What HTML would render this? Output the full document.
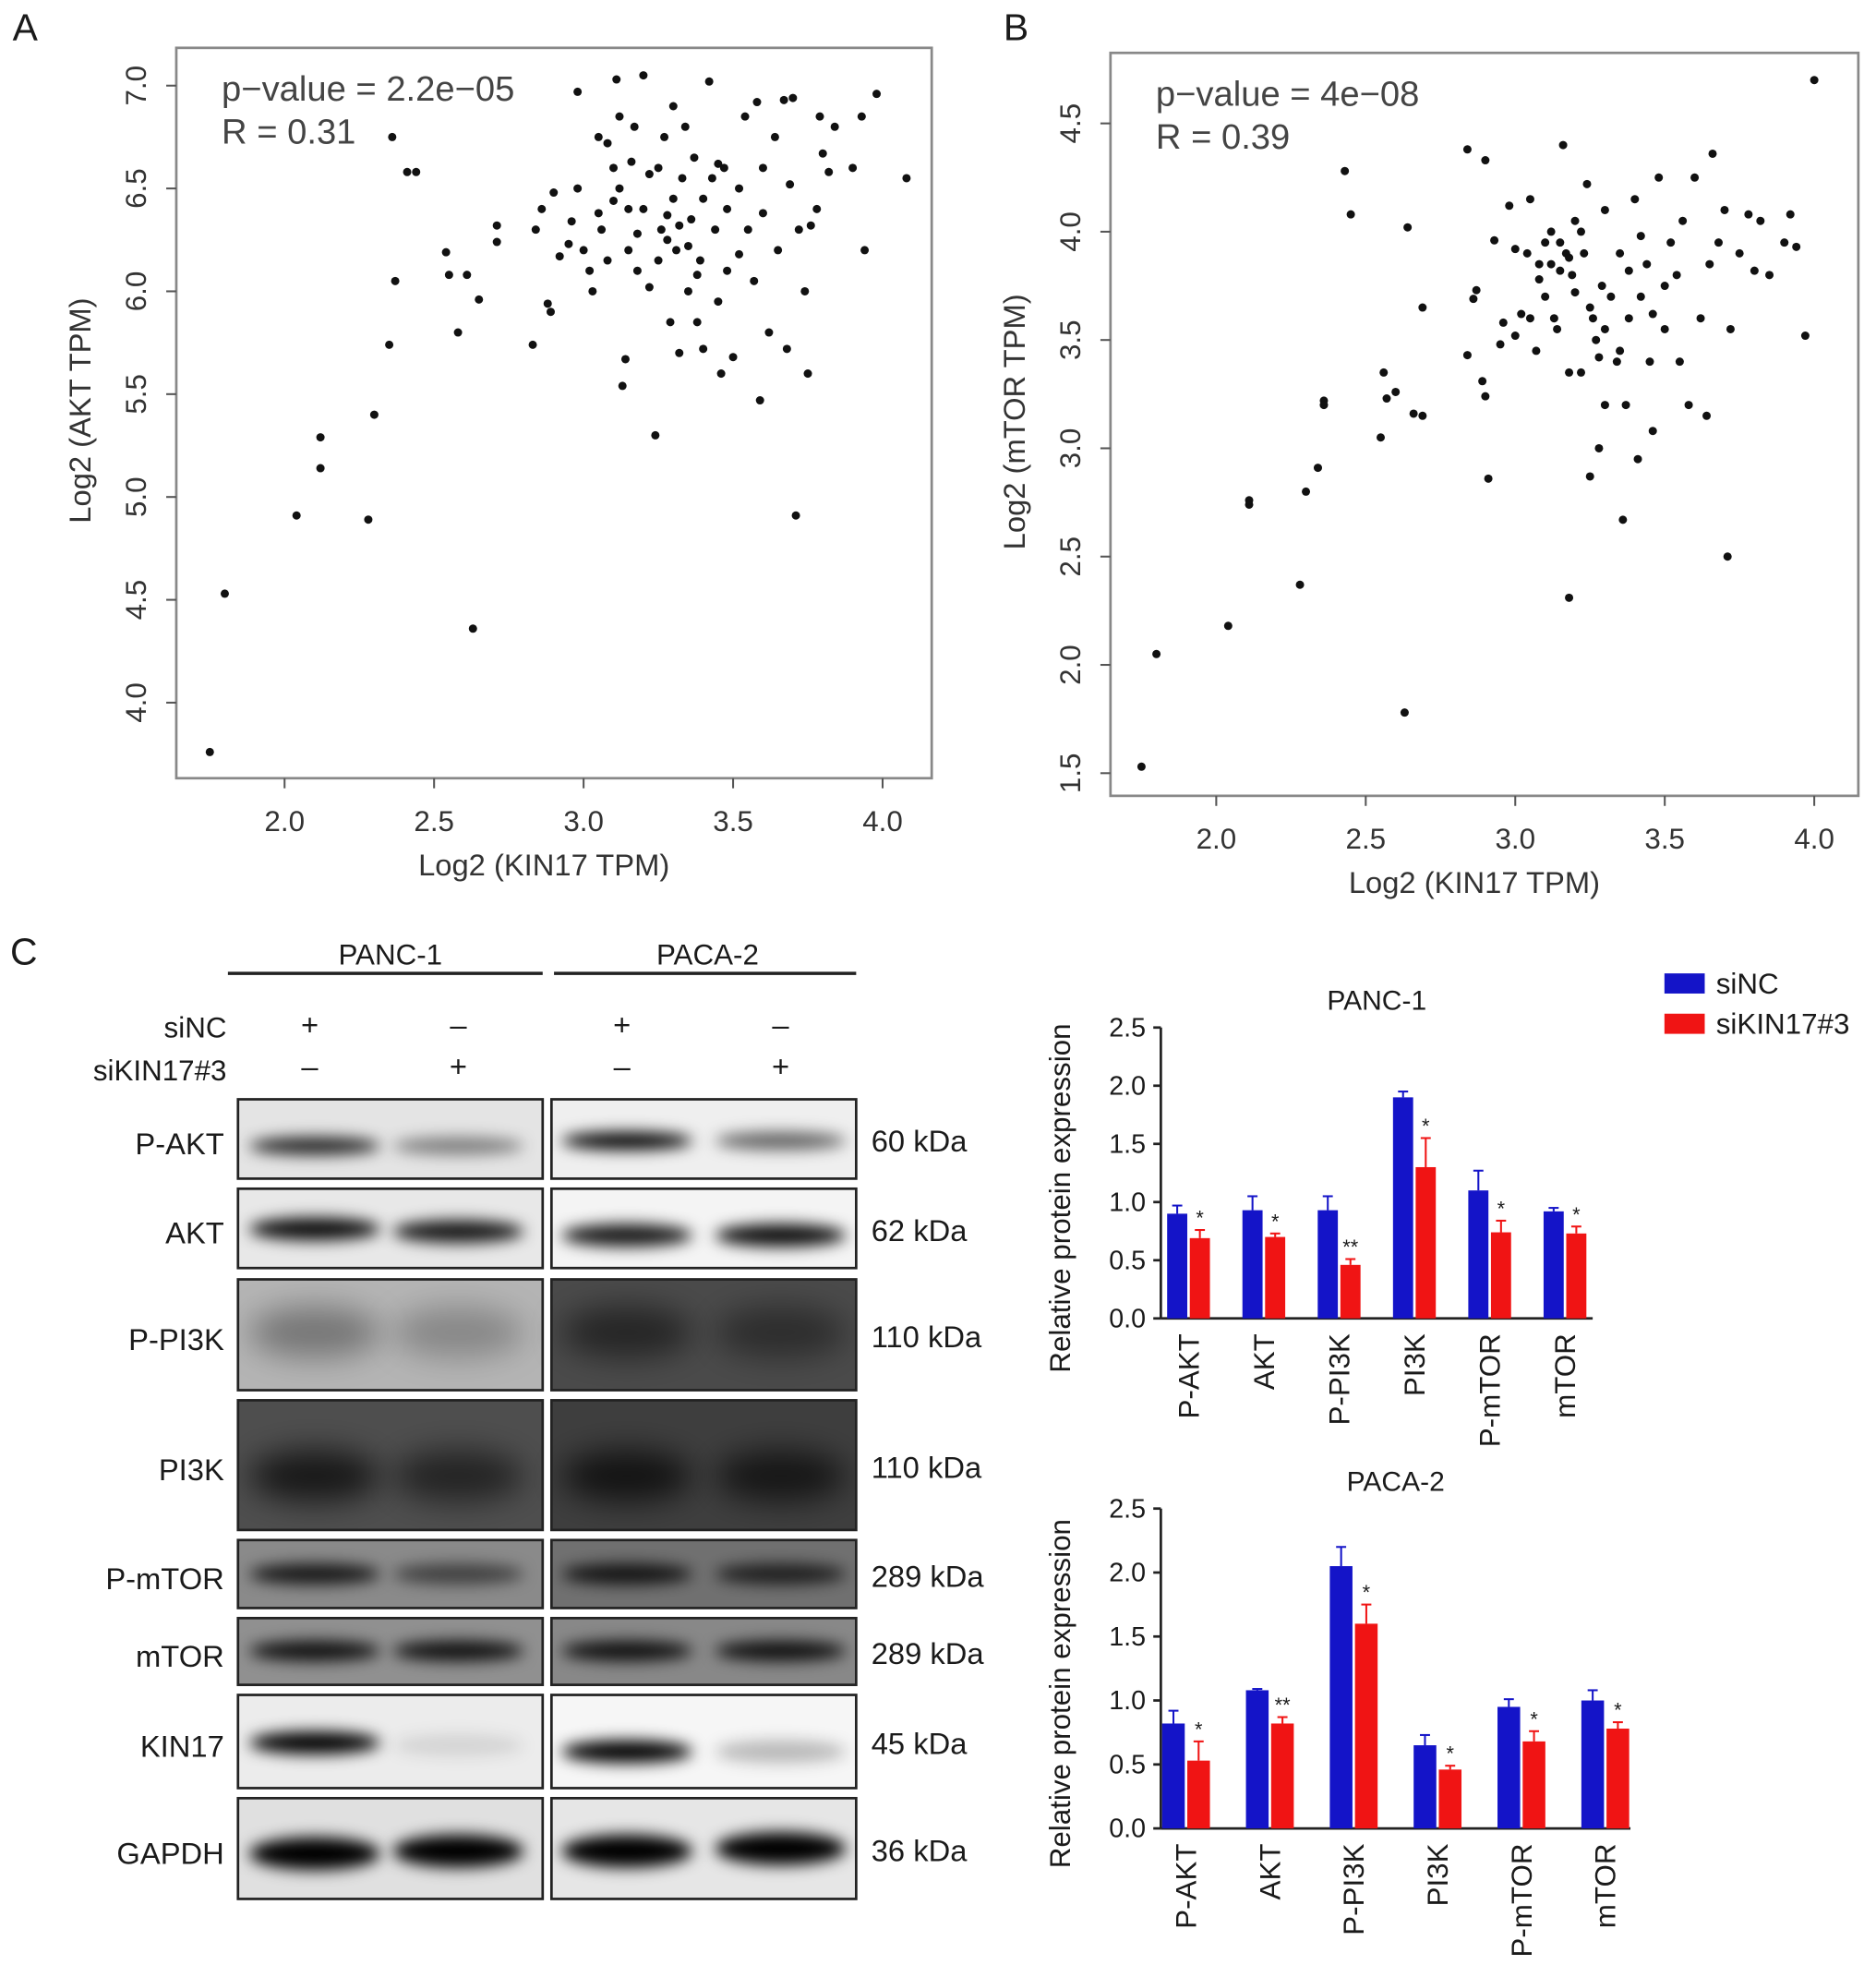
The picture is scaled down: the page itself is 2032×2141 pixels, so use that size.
<!DOCTYPE html>
<html><head><meta charset="utf-8">
<style>
html,body{margin:0;padding:0;background:#fff;}
svg{display:block;font-family:"Liberation Sans",Arial,sans-serif;}
</style></head>
<body>
<svg id="fig" width="2032" height="2141" viewBox="0 0 1490 1570" xmlns="http://www.w3.org/2000/svg">
<defs>
<filter id="blur6" x="-30%" y="-100%" width="160%" height="300%"><feGaussianBlur stdDeviation="6"/></filter>
<filter id="blur12" x="-30%" y="-100%" width="160%" height="300%"><feGaussianBlur stdDeviation="12"/></filter>
</defs>
<g id="root"></g>
</svg>
<script>
// ---------- DATA ----------
const aX=[1.75,1.8,2.04,2.12,2.12,2.28,2.3,2.35,2.37,2.36,2.41,2.44,2.54,2.55,2.58,2.61,2.63,2.65,2.71,2.71,2.83,2.84,2.86,2.88,2.89,2.9,2.92,2.95,2.96,2.98,3.0,3.02,3.03,3.05,3.06,3.08,3.1,3.11,3.12,3.13,3.14,3.15,3.16,3.17,3.18,3.2,3.2,3.22,3.24,3.25,3.26,3.27,3.28,3.29,3.3,3.31,3.32,3.33,3.34,3.35,3.36,3.37,3.38,3.39,3.4,3.42,3.43,3.44,3.45,3.46,3.47,3.48,3.5,3.52,3.54,3.55,3.57,3.58,3.59,3.6,3.62,3.64,3.65,3.67,3.68,3.69,3.7,3.71,3.72,3.74,3.75,3.76,3.78,3.79,3.8,3.82,3.84,3.9,3.93,3.94,3.98,4.08,3.1,3.15,3.22,3.28,3.32,3.35,3.25,3.18,3.4,3.05,3.45,3.3,3.52,3.12,3.6,2.98,3.08,3.38,3.48];
const aY=[3.76,4.53,4.91,5.14,5.29,4.89,5.4,5.74,6.05,6.75,6.58,6.58,6.19,6.08,5.8,6.08,4.36,5.96,6.24,6.32,5.74,6.3,6.4,5.94,5.9,6.48,6.17,6.23,6.34,6.97,6.2,6.1,6.0,6.38,6.3,6.72,6.6,7.03,6.5,5.54,5.67,6.2,6.63,6.8,6.1,7.05,6.4,6.02,5.3,6.6,6.3,6.75,6.25,5.85,6.45,6.2,5.7,6.55,6.8,6.0,6.35,6.65,5.85,6.15,5.72,7.02,6.55,6.3,5.95,5.6,6.6,6.4,5.68,6.18,6.85,6.3,6.05,6.92,5.47,6.38,5.8,6.75,6.2,6.93,5.72,6.52,6.94,4.91,6.3,6.0,5.6,6.32,6.4,6.85,6.67,6.58,6.8,6.6,6.85,6.2,6.96,6.55,6.44,6.4,6.57,6.37,6.32,6.22,6.15,6.28,6.45,6.75,6.62,6.9,6.5,6.85,6.6,6.5,6.15,6.08,6.1];
const bX=[1.75,1.8,2.04,2.11,2.11,2.28,2.3,2.34,2.36,2.36,2.43,2.45,2.55,2.56,2.57,2.6,2.63,2.64,2.66,2.69,2.69,2.84,2.84,2.86,2.87,2.89,2.9,2.9,2.91,2.93,2.95,2.96,2.98,3.0,3.02,3.04,3.05,3.07,3.08,3.1,3.12,3.13,3.14,3.15,3.16,3.17,3.18,3.19,3.2,3.22,3.23,3.24,3.25,3.26,3.27,3.28,3.29,3.3,3.32,3.34,3.35,3.36,3.37,3.38,3.4,3.41,3.42,3.44,3.45,3.46,3.48,3.5,3.52,3.54,3.56,3.58,3.6,3.62,3.64,3.66,3.68,3.7,3.71,3.72,3.75,3.78,3.8,3.82,3.85,3.9,3.92,3.94,3.97,4.0,3.08,3.12,3.15,3.18,3.2,3.25,3.3,3.35,3.38,3.42,3.5,3.28,3.18,3.1,3.3,3.46,3.55,3.65,3.22,3.05,3.0];
const bY=[1.53,2.05,2.18,2.74,2.76,2.37,2.8,2.91,3.22,3.2,4.28,4.08,3.05,3.35,3.23,3.26,1.78,4.02,3.16,3.15,3.65,3.43,4.38,3.69,3.73,3.31,3.24,4.33,2.86,3.96,3.48,3.58,4.12,3.52,3.62,3.9,4.15,3.45,3.85,3.7,4.0,3.6,3.55,3.95,4.4,3.9,2.31,3.8,4.05,3.35,3.9,4.22,2.87,3.6,3.5,3.0,3.75,4.1,3.7,3.4,3.9,2.67,3.2,3.6,4.15,2.95,3.7,3.85,3.4,3.08,4.25,3.55,3.95,3.8,4.05,3.2,4.25,3.6,3.15,4.36,3.95,4.1,2.5,3.55,3.9,4.08,3.82,4.05,3.8,3.95,4.08,3.93,3.52,4.7,3.78,3.85,3.82,3.88,3.72,3.65,3.55,3.45,3.82,3.98,3.75,3.42,3.35,3.95,3.2,3.62,3.4,3.85,4.0,3.6,3.92];
const xTicks=[2.0,2.5,3.0,3.5,4.0];
const aYTicks=[4.0,4.5,5.0,5.5,6.0,6.5,7.0];
const bYTicks=[1.5,2.0,2.5,3.0,3.5,4.0,4.5];
const barCats=["P-AKT","AKT","P-PI3K","PI3K","P-mTOR","mTOR"];
const panc_siNC=[0.9,0.93,0.93,1.9,1.1,0.92];
const panc_siNC_err=[0.07,0.12,0.12,0.05,0.17,0.03];
const panc_siKIN=[0.69,0.7,0.46,1.3,0.74,0.73];
const panc_siKIN_err=[0.07,0.03,0.05,0.25,0.1,0.06];
const panc_sig=["*","*","**","*","*","*"];
const paca_siNC=[0.82,1.08,2.05,0.65,0.95,1.0];
const paca_siNC_err=[0.1,0.01,0.15,0.08,0.06,0.08];
const paca_siKIN=[0.53,0.82,1.6,0.46,0.68,0.78];
const paca_siKIN_err=[0.15,0.05,0.15,0.03,0.08,0.05];
const paca_sig=["*","**","*","*","*","*"];
const barTicks=["0.0","0.5","1.0","1.5","2.0","2.5"];

// ---------- HELPERS ----------
const NS="http://www.w3.org/2000/svg";
const root=document.getElementById('root');
function mk(tag,attrs,parent){const e=document.createElementNS(NS,tag);for(const k in attrs)e.setAttribute(k,attrs[k]);(parent||root).appendChild(e);return e;}
function txt(s,x,y,size,parent,anchor,rot){const t=mk('text',{x:x,y:y,'font-size':size,fill:'#1a1a1a','text-anchor':anchor||'start'},parent);if(rot!==undefined)t.setAttribute('transform','rotate('+rot+' '+x+' '+y+')');t.textContent=s;return t;}

let t;
t=txt("A",10,32,30);
t=txt("B",797,32,30);
t=txt("C",8,766,30);

// ---------- SCATTER ----------
function scatter(cfg){
  const g=mk('g',{});
  
  
  const box=mk('rect',{x:cfg.x0,y:cfg.y0,width:cfg.x1-cfg.x0,height:cfg.y1-cfg.y0,fill:'none',stroke:'#888','stroke-width':2},g);
  
  const sx=v=>cfg.px2+(v-2)*(cfg.px4-cfg.px2)/2;
  const sy=v=>cfg.pyTop+(cfg.vTop-v)*(cfg.pyBot-cfg.pyTop)/(cfg.vTop-cfg.vBot);
  xTicks.forEach(v=>{
    mk('line',{x1:sx(v),x2:sx(v),y1:cfg.y1,y2:cfg.y1+8,stroke:'#555','stroke-width':1.5},g);
    const l=txt(v.toFixed(1),sx(v),cfg.y1+42,23,g,'middle');l.setAttribute('fill','#333');
    
  });
  cfg.yTicks.forEach(v=>{
    mk('line',{x1:cfg.x0-8,x2:cfg.x0,y1:sy(v),y2:sy(v),stroke:'#555','stroke-width':1.5},g);
    const l=txt(v.toFixed(1),cfg.x0-24,sy(v),23,g,'middle',-90);l.setAttribute('fill','#333');
    
  });
  const xl=txt("Log2 (KIN17 TPM)",(cfg.x0+cfg.x1)/2-8,cfg.y1+77,24,g,'middle');xl.setAttribute('fill','#333');
  
  const yl=txt(cfg.ylab,cfg.x0-68,(cfg.y0+cfg.y1)/2-2,24,g,'middle',-90);yl.setAttribute('fill','#333');
  
  const p=txt(cfg.p,cfg.x0+36,cfg.y0+42,28,g);p.setAttribute('fill','#444');
  
  const r=txt(cfg.r,cfg.x0+36,cfg.y0+76,28,g);r.setAttribute('fill','#444');
  
  cfg.xs.forEach((v,i)=>{
    const c=mk('circle',{cx:sx(v),cy:sy(cfg.ys[i]),r:3.3,fill:'#111'},g);
    
    
  });
}
scatter({name:'scatter-akt',x0:140,x1:740,y0:38,y1:618,px2:226,px4:701,vTop:7.0,vBot:4.0,pyTop:68,pyBot:558,yTicks:aYTicks,xs:aX,ys:aY,ylab:"Log2 (AKT TPM)",p:"p\u2212value = 2.2e\u221205",r:"R = 0.31"});
scatter({name:'scatter-mtor',x0:882,x1:1476,y0:42,y1:632,px2:966,px4:1441,vTop:4.5,vBot:1.5,pyTop:98,pyBot:614,yTicks:bYTicks,xs:bX,ys:bY,ylab:"Log2 (mTOR TPM)",p:"p\u2212value = 4e\u221208",r:"R = 0.39"});

// ---------- WESTERN BLOT ----------
const wb=mk('g',{});


t=txt("PANC-1",310,766,23,wb,'middle');
t=txt("PACA-2",562,766,23,wb,'middle');
mk('line',{x1:181,x2:431,y1:773,y2:773,stroke:'#222','stroke-width':2.5},wb);
mk('line',{x1:440,x2:680,y1:773,y2:773,stroke:'#222','stroke-width':2.5},wb);
t=txt("siNC",180,824,23,wb,'end');
t=txt("siKIN17#3",180,858,23,wb,'end');
const lanes=[246,364,494,620];
const siNCmarks=["+","\u2013","+","\u2013"], siKmarks=["\u2013","+","\u2013","+"];
lanes.forEach((x,i)=>{txt(siNCmarks[i],x,822,24,wb,'middle');txt(siKmarks[i],x,855,24,wb,'middle');});
const rows=[
 {n:"P-AKT",y0:873,y1:936,kda:"60 kDa",bg:["#e4e4e4","#efefef"],band:[0.85,0.45,1.0,0.6],bh:14,bc:[910,910,906,906]},
 {n:"AKT",y0:944,y1:1007,kda:"62 kDa",bg:["#e8e8e8","#f4f4f4"],band:[0.95,0.9,0.9,0.95],bh:18,bc:[976,978,981,981]},
 {n:"P-PI3K",y0:1016,y1:1104,kda:"110 kDa",bg:["#b4b4b4","#4a4a4a"],band:[0.35,0.25,0.5,0.4],bh:40,bc:[1058,1058,1058,1058]},
 {n:"PI3K",y0:1112,y1:1215,kda:"110 kDa",bg:["#4e4e4e","#3e3e3e"],band:[0.7,0.55,0.7,0.65],bh:40,bc:[1172,1172,1172,1172]},
 {n:"P-mTOR",y0:1223,y1:1277,kda:"289 kDa",bg:["#8a8a8a","#707070"],band:[0.85,0.55,0.85,0.75],bh:16,bc:[1250,1250,1250,1250]},
 {n:"mTOR",y0:1285,y1:1338,kda:"289 kDa",bg:["#909090","#888"],band:[0.9,0.9,0.9,0.9],bh:16,bc:[1311,1311,1311,1311]},
 {n:"KIN17",y0:1346,y1:1420,kda:"45 kDa",bg:["#ececec","#f6f6f6"],band:[1.0,0.1,1.0,0.25],bh:18,bc:[1384,1386,1391,1391]},
 {n:"GAPDH",y0:1428,y1:1508,kda:"36 kDa",bg:["#e0e0e0","#e6e6e6"],band:[1.0,1.0,1.0,1.0],bh:26,bc:[1472,1470,1470,1468]}
];
rows.forEach(r=>{
  const g=mk('g',{},wb);
  
  
  const clipId='clip'+r.n.replace(/[^a-z0-9]/gi,'');
  const cp=mk('clipPath',{id:clipId},g);
  mk('rect',{x:189,y:r.y0,width:242,height:r.y1-r.y0},cp);
  mk('rect',{x:438,y:r.y0,width:242,height:r.y1-r.y0},cp);
  const inner=mk('g',{'clip-path':'url(#'+clipId+')'},g);
  mk('rect',{x:189,y:r.y0,width:242,height:r.y1-r.y0,fill:r.bg[0]},inner);
  mk('rect',{x:438,y:r.y0,width:242,height:r.y1-r.y0,fill:r.bg[1]},inner);
  lanes.forEach((x,i)=>{
    const a=r.band[i];
    mk('ellipse',{cx:x+(i%2==0?4:0),cy:r.bc[i],rx:52,ry:r.bh/2,fill:'#000','fill-opacity':a,filter:r.bh>30?'url(#blur12)':'url(#blur6)'},inner);
  });
  mk('rect',{x:189,y:r.y0,width:242,height:r.y1-r.y0,fill:'none',stroke:'#222','stroke-width':2},g);
  mk('rect',{x:438,y:r.y0,width:242,height:r.y1-r.y0,fill:'none',stroke:'#222','stroke-width':2},g);
  const my=(r.y0+r.y1)/2+12;
  const l=txt(r.n,178,my,24,g,'end');
  const k=txt(r.kda,692,my-2,24,g);
});

// ---------- BAR CHARTS ----------
function bars(cfg){
  const g=mk('g',{});
  
  
  const sy=v=>cfg.y0-v*(cfg.y0-cfg.yTop)/2.5;
  const n=barCats.length;
  const step=(cfg.x1-cfg.x0-cfg.pad*2)/(n-1);
  const cx=i=>cfg.x0+cfg.pad+i*step;
  mk('line',{x1:cfg.x0,x2:cfg.x0,y1:cfg.yTop,y2:cfg.y0,stroke:'#222','stroke-width':2},g);
  mk('line',{x1:cfg.x0,x2:cfg.x1,y1:cfg.y0,y2:cfg.y0,stroke:'#222','stroke-width':2},g);
  barTicks.forEach(s=>{
    const v=parseFloat(s);
    mk('line',{x1:cfg.x0-6,x2:cfg.x0,y1:sy(v),y2:sy(v),stroke:'#222','stroke-width':2},g);
    const l=txt(s,cfg.x0-12,sy(v)+7,21,g,'end');
  });
  const tt=txt(cfg.title,(cfg.x0+cfg.x1)/2,cfg.yTop-14,22,g,'middle');
  
  const yl=txt("Relative protein expression",cfg.x0-72,cfg.y0-(cfg.y0-cfg.yTop)/2+20,23,g,'middle',-90);
  
  const bw=cfg.bw;
  barCats.forEach((c,i)=>{
    const x=cx(i);
    [[cfg.a,cfg.ae,'#1414c8',x-bw-1,'bar-sinc'],[cfg.b,cfg.be,'#f01414',x+1,'bar-sikin17']].forEach(([vals,errs,col,bx,nm])=>{
      const v=vals[i],e=errs[i];
      const ex=bx+bw/2;
      mk('line',{x1:ex,x2:ex,y1:sy(v),y2:sy(v+e),stroke:col,'stroke-width':1.5},g);
      mk('line',{x1:ex-4,x2:ex+4,y1:sy(v+e),y2:sy(v+e),stroke:col,'stroke-width':1.5},g);
      const rc=mk('rect',{x:bx,y:sy(v),width:bw,height:sy(0)-sy(v),fill:col},g);
      
      
    });
    const st=txt(cfg.sig[i],x+1+bw/2,sy(cfg.b[i]+cfg.be[i])-4,16,g,'middle');
    
    const xl=txt(c,x+8,cfg.y0+12,23,g,'end',-90);
    
  });
}
bars({name:'bar-chart-panc1',title:'PANC-1',x0:922,x1:1265,pad:22,y0:1047,yTop:816,bw:16,a:panc_siNC,ae:panc_siNC_err,b:panc_siKIN,be:panc_siKIN_err,sig:panc_sig});
bars({name:'bar-chart-paca2',title:'PACA-2',x0:922,x1:1295,pad:20,y0:1452,yTop:1198,bw:18,a:paca_siNC,ae:paca_siNC_err,b:paca_siKIN,be:paca_siKIN_err,sig:paca_sig});

// legend
const lg=mk('g',{});


let lr=mk('rect',{x:1322,y:773,width:32,height:16,fill:'#1414c8'},lg);

t=txt("siNC",1363,789,23,lg);
lr=mk('rect',{x:1322,y:805,width:32,height:16,fill:'#f01414'},lg);

t=txt("siKIN17#3",1363,821,23,lg);
</script>
</body></html>
